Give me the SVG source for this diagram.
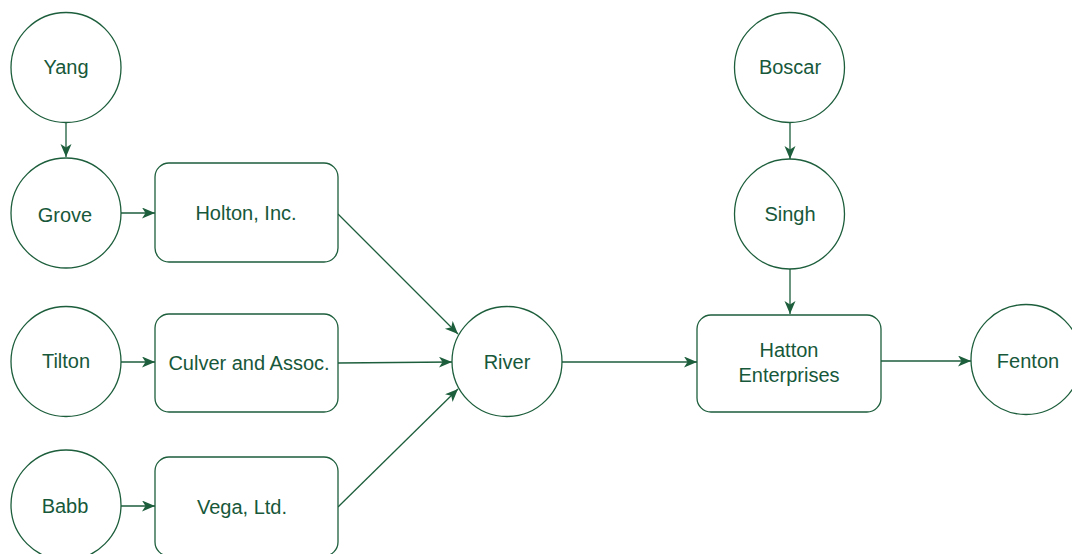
<svg xmlns="http://www.w3.org/2000/svg" width="1072" height="554" viewBox="0 0 1072 554">
<style>
.n{fill:#fff;stroke:#1d5e3c;stroke-width:1.3}
.t{font-family:"Liberation Sans",Arial,sans-serif;font-size:20px;fill:#17583a;text-anchor:middle}
.e{fill:none;stroke:#1d5e3c;stroke-width:1.3}
</style>
<defs>
<marker id="a" markerUnits="userSpaceOnUse" markerWidth="15" markerHeight="12" refX="13" refY="5.5" orient="auto">
<path d="M0,0 L13,5.5 L0,11 L3.5,5.5 z" fill="#1d5e3c"/>
</marker>
</defs>
<rect width="1072" height="554" fill="#fff"/>
<g id="connectors">
<line class="e" x1="66" y1="123" x2="66" y2="157" marker-end="url(#a)"/>
<line class="e" x1="121" y1="213" x2="155" y2="213" marker-end="url(#a)"/>
<line class="e" x1="121" y1="362" x2="155" y2="362" marker-end="url(#a)"/>
<line class="e" x1="121" y1="506" x2="155" y2="506" marker-end="url(#a)"/>
<line class="e" x1="338" y1="214" x2="458" y2="334" marker-end="url(#a)"/>
<line class="e" x1="338" y1="363" x2="452" y2="362" marker-end="url(#a)"/>
<line class="e" x1="338" y1="507" x2="458" y2="389" marker-end="url(#a)"/>
<line class="e" x1="562" y1="362" x2="697" y2="362" marker-end="url(#a)"/>
<line class="e" x1="790" y1="123" x2="790" y2="159" marker-end="url(#a)"/>
<line class="e" x1="790" y1="269" x2="790" y2="314" marker-end="url(#a)"/>
<line class="e" x1="881" y1="361" x2="971" y2="361" marker-end="url(#a)"/>
</g>
<g id="yang"><circle class="n" cx="66" cy="67.5" r="55"/><text class="t" x="66" y="74">Yang</text></g>
<g id="grove"><circle class="n" cx="66" cy="213" r="55"/><text class="t" x="65" y="222">Grove</text></g>
<g id="tilton"><circle class="n" cx="66" cy="361.5" r="55"/><text class="t" x="66" y="368">Tilton</text></g>
<g id="babb"><circle class="n" cx="66" cy="505" r="55"/><text class="t" x="65" y="513">Babb</text></g>
<g id="holton"><rect class="n" x="155" y="163" width="183" height="99" rx="14"/><text class="t" x="246" y="220">Holton, Inc.</text></g>
<g id="culver"><rect class="n" x="155" y="314" width="183" height="98" rx="14"/><text class="t" x="249" y="370">Culver and Assoc.</text></g>
<g id="vega"><rect class="n" x="155" y="457" width="183" height="99" rx="14"/><text class="t" x="242" y="514">Vega, Ltd.</text></g>
<g id="river"><circle class="n" cx="507" cy="361.5" r="55"/><text class="t" x="507" y="369">River</text></g>
<g id="boscar"><circle class="n" cx="789.5" cy="67.5" r="55"/><text class="t" x="790" y="74">Boscar</text></g>
<g id="singh"><circle class="n" cx="789.5" cy="214" r="55"/><text class="t" x="790" y="221">Singh</text></g>
<g id="hatton"><rect class="n" x="697" y="315" width="184" height="97" rx="14"/><text class="t" x="789" y="357">Hatton</text><text class="t" x="789" y="382">Enterprises</text></g>
<g id="fenton"><circle class="n" cx="1026" cy="359.5" r="55"/><text class="t" x="1028" y="368">Fenton</text></g>
</svg>
